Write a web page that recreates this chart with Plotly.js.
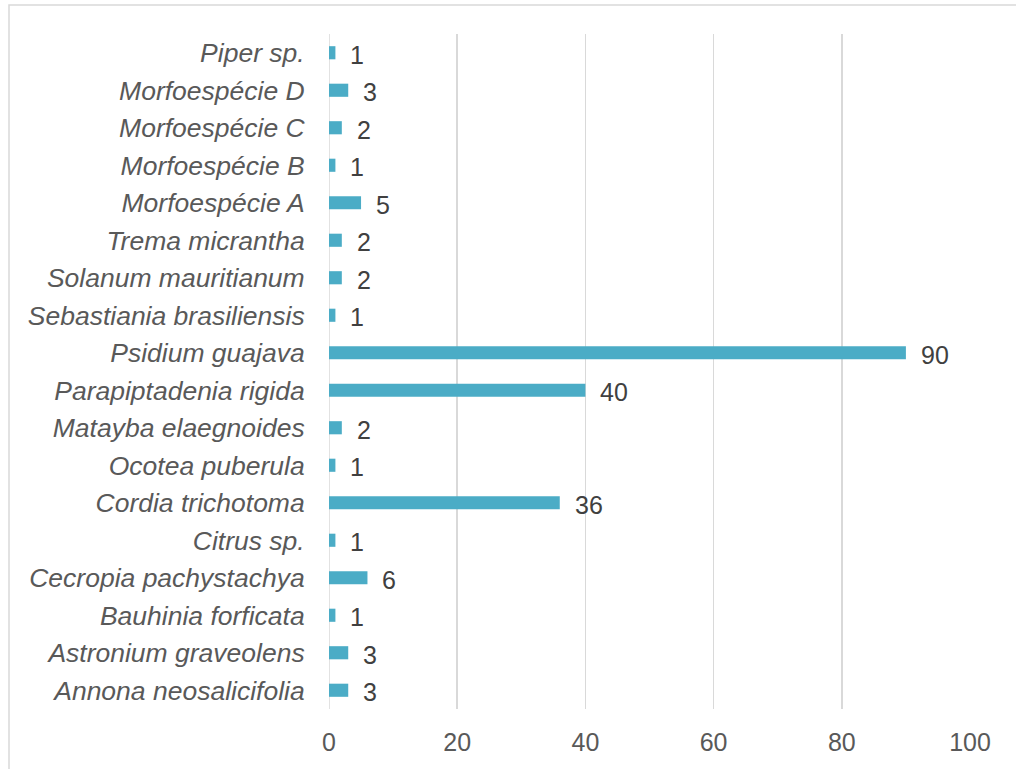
<!DOCTYPE html>
<html>
<head>
<meta charset="utf-8">
<script src="https://cdn.plot.ly/plotly-3.0.1.min.js"></script>
<style>
  html, body { margin: 0; padding: 0; background: #ffffff; }
  #chart { width: 1016px; height: 769px; }
</style>
</head>
<body>
<div id="chart"></div>
<script>
// Species, listed bottom to top as they appear on the axis
const species = [
  "Annona neosalicifolia",
  "Astronium graveolens",
  "Bauhinia forficata",
  "Cecropia pachystachya",
  "Citrus sp.",
  "Cordia trichotoma",
  "Ocotea puberula",
  "Matayba elaegnoides",
  "Parapiptadenia rigida",
  "Psidium guajava",
  "Sebastiania brasiliensis",
  "Solanum mauritianum",
  "Trema micrantha",
  "Morfoespécie A",
  "Morfoespécie B",
  "Morfoespécie C",
  "Morfoespécie D",
  "Piper sp."
];
// Number of individuals per species
const counts = [3, 3, 1, 6, 1, 36, 1, 2, 40, 90, 1, 2, 2, 5, 1, 2, 3, 1];
const xTicks = [0, 20, 40, 60, 80, 100];

const W = 1016, H = 769;
const margin = { l: 329, r: 46, t: 34, b: 60 };
const plotW = W - margin.l - margin.r;
const plotH = H - margin.t - margin.b;
// outer frame, expressed in paper coordinates
const px = x => (x - margin.l) / plotW;
const py = y => 1 - (y - margin.t) / plotH;

const trace = {
  type: "bar",
  orientation: "h",
  y: species,
  x: counts,
  width: 0.35,
  marker: { color: "#4BACC6" },
  hoverinfo: "x+y"
};

const annotations = species.map((s, i) => ({
  x: counts[i],
  y: s,
  xref: "x",
  yref: "y",
  text: String(counts[i]),
  showarrow: false,
  xanchor: "left",
  yanchor: "middle",
  xshift: 13,
  yshift: -2,
  font: { family: "Liberation Sans, Arial, sans-serif", size: 25, color: "#404040" }
}));

const layout = {
  width: W,
  height: H,
  margin: margin,
  paper_bgcolor: "#ffffff",
  plot_bgcolor: "#ffffff",
  showlegend: false,
  bargap: 0.65,
  font: { family: "Liberation Sans, Arial, sans-serif", color: "#595959" },
  xaxis: {
    range: [0, 100],
    tickvals: xTicks,
    ticktext: xTicks.map(String),
    showgrid: true,
    gridcolor: "#d9d9d9",
    gridwidth: 1.5,
    zeroline: false,
    showline: false,
    ticks: "outside",
    ticklen: 11,
    tickcolor: "rgba(0,0,0,0)",
    tickfont: { size: 25, color: "#595959" },
    fixedrange: true
  },
  yaxis: {
    type: "category",
    categoryorder: "array",
    categoryarray: species,
    range: [-0.5, species.length - 0.5],
    showgrid: false,
    zeroline: false,
    showline: false,
    ticks: "outside",
    ticklen: 18,
    tickcolor: "rgba(0,0,0,0)",
    tickfont: { size: 26.5, color: "#595959", style: "italic" },
    fixedrange: true
  },
  shapes: [
    {
      type: "line", xref: "x", yref: "paper",
      x0: 0, x1: 0, y0: 0, y1: 1,
      line: { color: "#d9d9d9", width: 1.5 },
      layer: "below"
    },
    {
      type: "rect", xref: "paper", yref: "paper",
      x0: px(9), x1: px(1030), y0: py(5), y1: py(790),
      line: { color: "#d9d9d9", width: 1.5 },
      fillcolor: "rgba(0,0,0,0)"
    }
  ],
  annotations: annotations
};

Plotly.newPlot("chart", [trace], layout, { displayModeBar: false, staticPlot: true });
</script>
</body>
</html>
